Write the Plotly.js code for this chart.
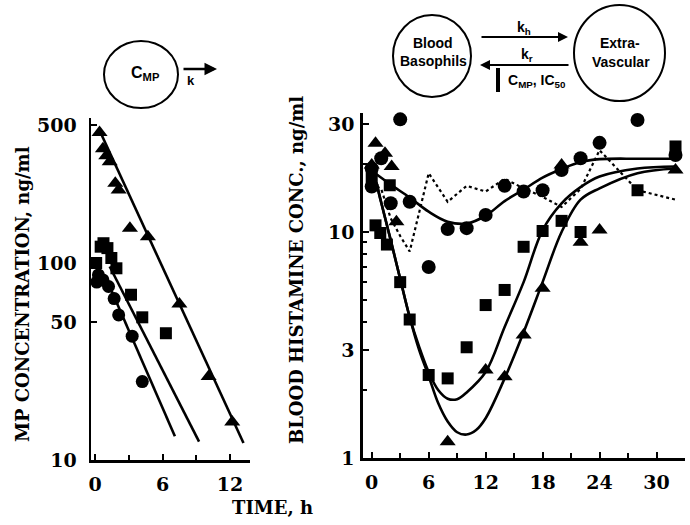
<!DOCTYPE html>
<html>
<head>
<meta charset="utf-8">
<script src="https://cdn.plot.ly/plotly-3.0.1.min.js"></script>
<style>html,body{margin:0;padding:0;background:#fff;}#chart{width:690px;height:525px;}</style>
</head>
<body>
<div id="chart"></div>
<script>
// ---------- Left panel: MP concentration (ng/ml) vs time (h) ----------
var mpTimeTri = [0.4, 0.7, 1.0, 1.3, 1.8, 2.1, 3.1, 4.7, 7.5, 10.1, 12.2];
var mpTri     = [460, 380, 350, 327, 254, 235, 150, 136, 62, 26.5, 15.6];
var mpTimeSq  = [0.1, 0.5, 0.75, 1.1, 1.45, 1.9, 3.2, 4.2, 6.3];
var mpSq      = [100, 121, 126, 119, 106, 94, 69, 53, 44];
var mpTimeCir = [0.15, 0.3, 0.7, 1.2, 1.7, 2.1, 3.3, 4.2];
var mpCir     = [80, 87, 82, 76, 66, 54.5, 42.5, 25];
var mpFitTriT = [0.6, 13.2];  var mpFitTri = [445, 12.2];
var mpFitSqT  = [1.3, 9.25];  var mpFitSq  = [96, 12.4];
var mpFitCirT = [1.3, 7.1];   var mpFitCir = [76, 13.2];
var mpTickVals = [10, 50, 100, 500];
var mpTickText = ['10', '50', '100', '500'];

// ---------- Right panel: blood histamine (ng/ml) vs time (h) ----------
var hTimeCir = [0, 0, 1, 2, 3, 4, 6, 8, 10, 12, 14, 16, 18, 20, 22, 24, 28, 32];
var hCir     = [19.1, 15.9, 21.2, 13.4, 31.5, 13.6, 7.0, 10.3, 10.4, 11.9, 16.0, 15.1, 15.3, 18.8, 21.2, 24.8, 31.3, 21.9];
var hTimeSq  = [0, 0.4, 0.9, 1.6, 1.9, 3, 4, 6, 8, 10, 12, 14, 16, 18, 20, 22, 28, 32];
var hSq      = [17.5, 10.7, 9.9, 8.8, 16.1, 6.0, 4.1, 2.33, 2.25, 3.09, 4.75, 5.54, 8.6, 10.1, 11.2, 10.0, 15.3, 23.9];
var hTimeTri = [0, 0.4, 1.4, 2.1, 2.6, 8, 12, 14, 16, 18, 20, 22, 24, 32];
var hTri     = [19.8, 24.7, 22.3, 19.5, 11.1, 1.18, 2.45, 2.29, 3.5, 5.64, 19.8, 9.0, 10.2, 18.8];
var hTimeDot = [0, 1, 2, 3, 4, 6, 8, 10, 12, 14, 16, 18, 20, 22, 24, 28, 32];
var hDot     = [16.4, 15.5, 11.5, 9.6, 8.2, 18.2, 13.6, 16.0, 15.1, 17.2, 15.6, 14.3, 12.9, 15.5, 23.0, 15.3, 13.9];
var hFitCirT = [0.5, 2, 4, 6, 8, 10, 12, 14, 16, 18, 20, 22, 24, 28, 32];
var hFitCir  = [18.0, 16.2, 14.2, 12.3, 11.1, 10.9, 11.8, 13.7, 15.4, 17.4, 19.0, 20.4, 21.0, 21.1, 21.1];
var hFitSqT  = [0.5, 1, 2, 3, 4, 5, 6, 7, 8, 9, 10, 12, 14, 16, 18, 20, 22, 24, 28, 32];
var hFitSq   = [16.5, 13.5, 9.2, 6.2, 4.2, 3.1, 2.4, 2.0, 1.83, 1.82, 1.95, 2.4, 3.8, 6.0, 10.2, 13.4, 15.8, 17.6, 19.1, 19.5];
var hFitTriT = [0.5, 1, 2, 3, 4, 5, 6, 7, 8, 9, 10, 11, 12, 14, 16, 18, 20, 22, 24, 28, 32];
var hFitTri  = [16.5, 13.5, 9.2, 6.2, 4.2, 3.0, 2.3, 1.75, 1.45, 1.3, 1.27, 1.33, 1.5, 2.25, 3.6, 6.0, 10.0, 13.9, 15.6, 18.2, 19.1];
var hTickVals = [1, 3, 10, 30];
var hTickText = ['1', '3', '10', '30'];
var hMinorVals = [2, 4, 5, 6, 7, 8, 9, 20];

var W = 690, H = 525;
function fx(x) { return x / W; }
function fy(y) { return 1 - y / H; }

var tickFont = {family: 'DejaVu Serif', size: 19, color: 'black', weight: 'bold'};
var titleFont = {family: 'DejaVu Serif', size: 18, color: 'black', weight: 'bold'};
var sansFont = {family: 'Liberation Sans', size: 14, color: 'black', weight: 'bold'};

function pts(x, y, sym, size, xa, ya) {
  return {x: x, y: y, mode: 'markers', type: 'scatter', xaxis: xa, yaxis: ya, cliponaxis: false,
          marker: {symbol: sym, size: size, color: 'black', line: {width: 0}}, hoverinfo: 'skip'};
}
function line(x, y, xa, ya, dash, shape) {
  return {x: x, y: y, mode: 'lines', type: 'scatter', xaxis: xa, yaxis: ya,
          line: {color: 'black', width: dash ? 2.2 : 2.6, dash: dash || 'solid', shape: shape || 'linear', smoothing: 1},
          hoverinfo: 'skip'};
}

var data = [
  line(mpFitTriT, mpFitTri, 'x', 'y'),
  line(mpFitSqT, mpFitSq, 'x', 'y'),
  line(mpFitCirT, mpFitCir, 'x', 'y'),
  pts(mpTimeTri, mpTri, 'triangle-up', 14, 'x', 'y'),
  pts(mpTimeSq, mpSq, 'square', 12, 'x', 'y'),
  pts(mpTimeCir, mpCir, 'circle', 13, 'x', 'y'),
  line(hTimeDot, hDot, 'x2', 'y2', 'dot'),
  line(hFitCirT, hFitCir, 'x2', 'y2', null, 'spline'),
  line(hFitSqT, hFitSq, 'x2', 'y2', null, 'spline'),
  line(hFitTriT, hFitTri, 'x2', 'y2', null, 'spline'),
  pts(hTimeTri, hTri, 'triangle-up', 14, 'x2', 'y2'),
  pts(hTimeSq, hSq, 'square', 12, 'x2', 'y2'),
  pts(hTimeCir, hCir, 'circle', 14, 'x2', 'y2')
];

var axBase = {showline: true, linecolor: 'black', linewidth: 2.5, showgrid: false, zeroline: false,
              ticks: 'inside', ticklen: 6, tickwidth: 2, tickcolor: 'black', tickfont: tickFont, fixedrange: true};

var layout = {
  width: W, height: H, autosize: false,
  margin: {l: 0, r: 0, t: 0, b: 0, pad: 0},
  paper_bgcolor: 'white', plot_bgcolor: 'rgba(0,0,0,0)',
  showlegend: false,
  xaxis: Object.assign({}, axBase, {domain: [fx(91), fx(250)], range: [-0.36, 13.78], anchor: 'y',
          tickvals: [0, 6, 12], ticktext: ['0', '6', '12'], ticklabelstandoff: 6,
          minor: {tickvals: [3, 9], ticks: 'inside', ticklen: 5, tickwidth: 2, tickcolor: 'black'}}),
  yaxis: Object.assign({}, axBase, {domain: [fy(460), fy(118)], type: 'log', range: [1, 2.736], anchor: 'x',
          tickvals: mpTickVals, ticktext: mpTickText, ticklabelstandoff: 8}),
  xaxis2: Object.assign({}, axBase, {domain: [fx(362.7), fx(685)], range: [-0.95, 33], anchor: 'y2',
          tickvals: [0, 6, 12, 18, 24, 30], ticktext: ['0', '6', '12', '18', '24', '30'], ticklabelstandoff: 6,
          minor: {tickvals: [3, 9, 15, 21, 27], ticks: 'inside', ticklen: 5, tickwidth: 2, tickcolor: 'black'}}),
  yaxis2: Object.assign({}, axBase, {domain: [fy(458), fy(113)], type: 'log', range: [0, 1.5265], anchor: 'x2',
          tickvals: hTickVals, ticktext: hTickText, ticklabelstandoff: 2,
          minor: {tickvals: hMinorVals, ticks: 'inside', ticklen: 4, tickwidth: 2, tickcolor: 'black'}}),
  shapes: [
    {type: 'circle', xref: 'paper', yref: 'paper', x0: fx(104), x1: fx(178), y0: fy(108), y1: fy(41), line: {color: 'black', width: 2}},
    {type: 'circle', xref: 'paper', yref: 'paper', x0: fx(393), x1: fx(471), y0: fy(97), y1: fy(15), line: {color: 'black', width: 2}},
    {type: 'circle', xref: 'paper', yref: 'paper', x0: fx(574), x1: fx(665), y0: fy(101), y1: fy(5), line: {color: 'black', width: 2}},
    {type: 'line', xref: 'paper', yref: 'paper', x0: fx(498), x1: fx(498), y0: fy(68), y1: fy(92), line: {color: 'black', width: 4}}
  ],
  annotations: [
    {xref: 'paper', yref: 'paper', x: fx(22), y: fy(294), text: 'MP CONCENTRATION, ng/ml', textangle: -90,
     showarrow: false, font: titleFont, xanchor: 'center', yanchor: 'middle'},
    {xref: 'paper', yref: 'paper', x: fx(296), y: fy(270), text: 'BLOOD HISTAMINE CONC., ng/ml', textangle: -90,
     showarrow: false, font: titleFont, xanchor: 'center', yanchor: 'middle'},
    {xref: 'paper', yref: 'paper', x: fx(272), y: fy(507), text: 'TIME, h',
     showarrow: false, font: titleFont, xanchor: 'center', yanchor: 'middle'},
    {xref: 'paper', yref: 'paper', x: fx(145), y: fy(73), text: 'C<sub>MP</sub>',
     showarrow: false, font: {family: 'Liberation Sans', size: 16, color: 'black', weight: 'bold'}, xanchor: 'center', yanchor: 'middle'},
    {xref: 'paper', yref: 'paper', x: fx(217), y: fy(69), ax: -35, ay: 0, text: '', showarrow: true,
     arrowhead: 2, arrowsize: 1, arrowwidth: 2.5, arrowcolor: 'black'},
    {xref: 'paper', yref: 'paper', x: fx(191), y: fy(81), text: 'k',
     showarrow: false, font: {family: 'Liberation Sans', size: 13, color: 'black', weight: 'bold'}, xanchor: 'center', yanchor: 'middle'},
    {xref: 'paper', yref: 'paper', x: fx(433), y: fy(43), text: 'Blood', showarrow: false, font: sansFont, xanchor: 'center', yanchor: 'middle'},
    {xref: 'paper', yref: 'paper', x: fx(433), y: fy(61), text: 'Basophils', showarrow: false, font: sansFont, xanchor: 'center', yanchor: 'middle'},
    {xref: 'paper', yref: 'paper', x: fx(620), y: fy(43), text: 'Extra-', showarrow: false, font: sansFont, xanchor: 'center', yanchor: 'middle'},
    {xref: 'paper', yref: 'paper', x: fx(621), y: fy(62), text: 'Vascular', showarrow: false, font: sansFont, xanchor: 'center', yanchor: 'middle'},
    {xref: 'paper', yref: 'paper', x: fx(568), y: fy(37), ax: -88, ay: 0, text: '', showarrow: true,
     arrowhead: 2, arrowsize: 1, arrowwidth: 2, arrowcolor: 'black'},
    {xref: 'paper', yref: 'paper', x: fx(480), y: fy(65), ax: 90, ay: 0, text: '', showarrow: true,
     arrowhead: 2, arrowsize: 1, arrowwidth: 2, arrowcolor: 'black'},
    {xref: 'paper', yref: 'paper', x: fx(524), y: fy(28), text: 'k<sub>h</sub>', showarrow: false, font: sansFont, xanchor: 'center', yanchor: 'middle'},
    {xref: 'paper', yref: 'paper', x: fx(527), y: fy(55), text: 'k<sub>r</sub>', showarrow: false, font: sansFont, xanchor: 'center', yanchor: 'middle'},
    {xref: 'paper', yref: 'paper', x: fx(506), y: fy(81), text: 'C<sub>MP</sub>, IC<sub>50</sub>', showarrow: false, font: sansFont, xanchor: 'left', yanchor: 'middle'}
  ]
};

Plotly.newPlot('chart', data, layout, {staticPlot: true, displayModeBar: false});
</script>
</body>
</html>
